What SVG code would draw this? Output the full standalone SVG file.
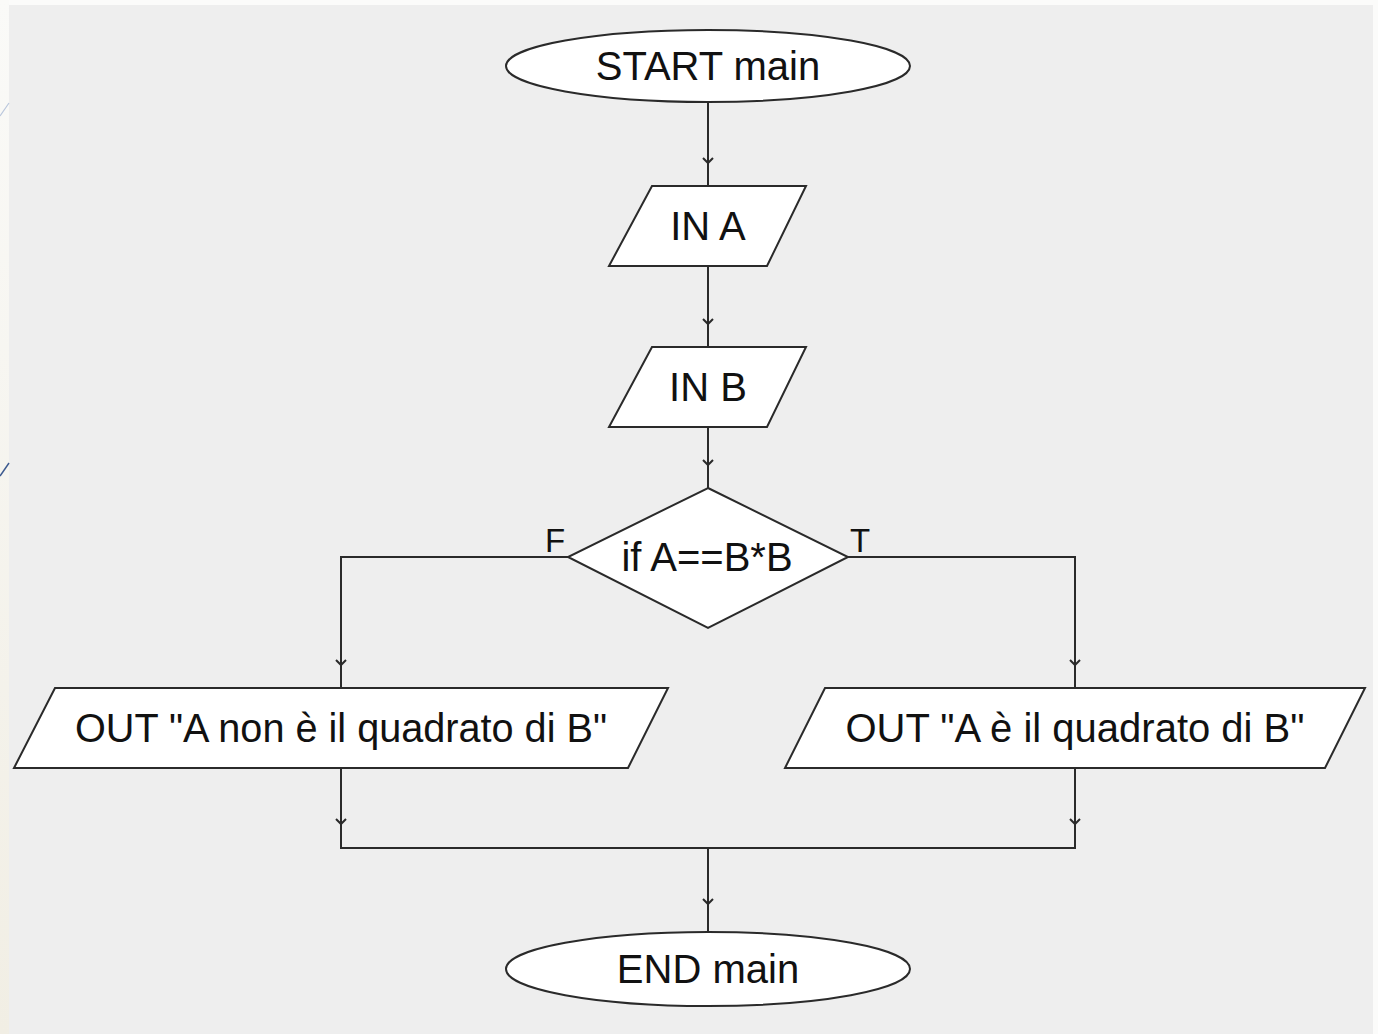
<svg xmlns="http://www.w3.org/2000/svg" width="1378" height="1034" viewBox="0 0 1378 1034">
<defs>
<linearGradient id="strip" x1="0" y1="0" x2="0" y2="1">
<stop offset="0" stop-color="#fafaf8"/>
<stop offset="1" stop-color="#f1eee4"/>
</linearGradient>
</defs>
<style>
.shape{fill:#ffffff;stroke:#2a2a2a;stroke-width:2}
.lbl{font-family:"Liberation Sans",Arial,sans-serif;font-size:40px;fill:#111;text-anchor:middle}
.tag{font-family:"Liberation Sans",Arial,sans-serif;font-size:33px;fill:#111;text-anchor:middle}
.conn{fill:none;stroke:#2a2a2a;stroke-width:2}
.chev{fill:none;stroke:#2a2a2a;stroke-width:2}
</style>
<rect x="0" y="0" width="1378" height="1034" fill="#fbfbfa"/>
<rect x="0" y="0" width="9" height="1034" fill="url(#strip)"/>
<rect x="9" y="5" width="1364" height="1029" fill="#eeeeee"/>
<line x1="0" y1="116" x2="9" y2="103" stroke="#b9c6dc" stroke-width="1.2"/>
<line x1="0" y1="476" x2="9" y2="463" stroke="#3d5a8f" stroke-width="1.5"/>

<g id="connectors">
<path class="conn" d="M708 102 V186"/>
<path class="chev" d="M703 158 L708 163 L713 158"/>
<path class="conn" d="M708 266 V347"/>
<path class="chev" d="M703 319 L708 324 L713 319"/>
<path class="conn" d="M708 427 V488"/>
<path class="chev" d="M703 460 L708 465 L713 460"/>
<path class="conn" d="M568 557 H341 V688"/>
<path class="chev" d="M336 660 L341 665 L346 660"/>
<path class="conn" d="M848 557 H1075 V688"/>
<path class="chev" d="M1070 660 L1075 665 L1080 660"/>
<path class="conn" d="M341 768 V848 H1075 V768"/>
<path class="chev" d="M336 819 L341 824 L346 819"/>
<path class="chev" d="M1070 819 L1075 824 L1080 819"/>
<path class="conn" d="M708 848 V932"/>
<path class="chev" d="M703 899 L708 904 L713 899"/>
<text class="tag" x="555" y="552">F</text>
<text class="tag" x="860" y="552">T</text>
</g>

<g id="start">
<ellipse class="shape" cx="708" cy="66" rx="202" ry="36"/>
<text class="lbl" x="708" y="80">START main</text>
</g>

<g id="inA">
<polygon class="shape" points="652,186 806,186 767,266 609,266"/>
<text class="lbl" x="708" y="240">IN A</text>
</g>

<g id="inB">
<polygon class="shape" points="652,347 806,347 767,427 609,427"/>
<text class="lbl" x="708" y="401">IN B</text>
</g>

<g id="decision">
<polygon class="shape" points="708,488 848,557 708,628 568,557"/>
<text class="lbl" x="707" y="571">if A==B*B</text>
</g>

<g id="outFalse">
<polygon class="shape" points="55,688 668,688 628,768 14,768"/>
<text class="lbl" x="341" y="742" textLength="532" lengthAdjust="spacingAndGlyphs">OUT "A non è il quadrato di B"</text>
</g>

<g id="outTrue">
<polygon class="shape" points="825,688 1365,688 1325,768 785,768"/>
<text class="lbl" x="1075" y="742">OUT "A è il quadrato di B"</text>
</g>

<g id="end">
<ellipse class="shape" cx="708" cy="969" rx="202" ry="37"/>
<text class="lbl" x="708" y="983">END main</text>
</g>
</svg>
